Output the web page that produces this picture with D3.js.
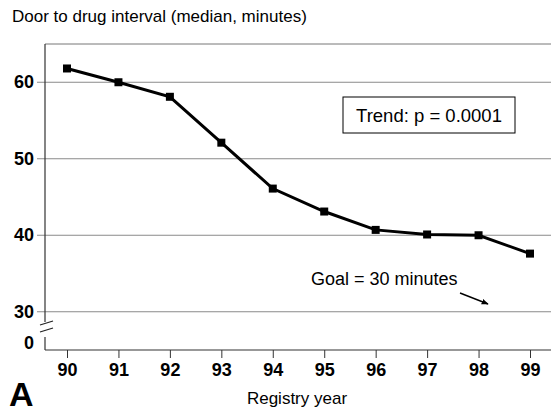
<!DOCTYPE html>
<html>
<head>
<meta charset="utf-8">
<script src="https://cdn.jsdelivr.net/npm/d3@7"></script>
<style>
  body { margin: 0; background: #fff; }
  text { font-family: "Liberation Sans", Arial, sans-serif; }
</style>
</head>
<body>
<div id="chart"></div>
<script>
var width = 551,
    height = 412;

// registry years and median door-to-drug minutes
var years = ["90", "91", "92", "93", "94", "95", "96", "97", "98", "99"];
var medians = [61.8, 60, 58.1, 52.1, 46.1, 43.1, 40.7, 40.1, 40.0, 37.6];
var yTicks = [30, 40, 50, 60];

var plotLeft = 45, plotRight = 551, plotTop = 44, plotBottom = 350;

var svg = d3.select("#chart").append("svg")
    .attr("width", width)
    .attr("height", height);

var x = d3.scalePoint()
    .domain(years)
    .range([67, 530]);

// axis is broken below 30, the "0" sits where 25 would be
var y = d3.scaleLinear()
    .domain([25, 65])
    .range([plotBottom, plotTop]);

// gridlines
svg.selectAll("line.grid")
    .data(yTicks)
  .enter().append("line")
    .attr("class", "grid")
    .attr("x1", plotLeft - 8)
    .attr("x2", plotRight)
    .attr("y1", function(d) { return y(d); })
    .attr("y2", function(d) { return y(d); })
    .attr("stroke", "#8a8a8a")
    .attr("stroke-width", 1);

// top border
svg.append("line")
    .attr("x1", plotLeft).attr("x2", plotRight)
    .attr("y1", plotTop).attr("y2", plotTop)
    .attr("stroke", "#777").attr("stroke-width", 1);

// y axis with break
svg.append("line")
    .attr("x1", plotLeft).attr("x2", plotLeft)
    .attr("y1", plotTop).attr("y2", 322)
    .attr("stroke", "#333").attr("stroke-width", 1.2);
svg.append("line")
    .attr("x1", plotLeft).attr("x2", plotLeft)
    .attr("y1", 337).attr("y2", plotBottom)
    .attr("stroke", "#333").attr("stroke-width", 1.2);
svg.append("line")
    .attr("x1", 40).attr("x2", 53)
    .attr("y1", 325).attr("y2", 321)
    .attr("stroke", "#222").attr("stroke-width", 1.2);
svg.append("line")
    .attr("x1", 40).attr("x2", 53)
    .attr("y1", 332).attr("y2", 328)
    .attr("stroke", "#222").attr("stroke-width", 1.2);

// y labels
svg.selectAll("text.ylab")
    .data(yTicks)
  .enter().append("text")
    .attr("class", "ylab")
    .attr("x", 34)
    .attr("y", function(d) { return y(d) + 6; })
    .attr("text-anchor", "end")
    .attr("font-size", 18)
    .attr("font-weight", "bold")
    .text(function(d) { return d; });
svg.append("text")
    .attr("x", 34).attr("y", y(25) - 1)
    .attr("text-anchor", "end")
    .attr("font-size", 18).attr("font-weight", "bold")
    .text("0");

// x axis
var xAxis = svg.append("g")
    .attr("transform", "translate(0," + plotBottom + ")")
    .call(d3.axisBottom(x).tickSize(8).tickPadding(5));
xAxis.select(".domain")
    .attr("d", "M" + plotLeft + ",0H" + plotRight)
    .attr("stroke", "#333").attr("stroke-width", 1.2);
xAxis.selectAll(".tick line").attr("stroke", "#333");
xAxis.selectAll(".tick text")
    .attr("font-family", "Liberation Sans, Arial, sans-serif")
    .attr("font-size", 18)
    .attr("font-weight", "bold")
    .attr("fill", "#000");

// data line
var line = d3.line()
    .x(function(d, i) { return x(years[i]); })
    .y(function(d) { return y(d); });

svg.append("path")
    .datum(medians)
    .attr("d", line)
    .attr("fill", "none")
    .attr("stroke", "#000")
    .attr("stroke-width", 3);

svg.selectAll("rect.pt")
    .data(medians)
  .enter().append("rect")
    .attr("class", "pt")
    .attr("x", function(d, i) { return x(years[i]) - 4; })
    .attr("y", function(d) { return y(d) - 4; })
    .attr("width", 8)
    .attr("height", 8)
    .attr("fill", "#000");

// title and axis label
svg.append("text")
    .attr("x", 12).attr("y", 22)
    .attr("font-size", 17)
    .text("Door to drug interval (median, minutes)");

svg.append("text")
    .attr("x", 297).attr("y", 404)
    .attr("text-anchor", "middle")
    .attr("font-size", 17)
    .text("Registry year");

svg.append("text")
    .attr("x", 9).attr("y", 406)
    .attr("font-size", 34)
    .attr("font-weight", "bold")
    .text("A");

// trend box
svg.append("rect")
    .attr("x", 343).attr("y", 97)
    .attr("width", 172).attr("height", 36)
    .attr("fill", "#fff")
    .attr("stroke", "#000").attr("stroke-width", 1);
svg.append("text")
    .attr("x", 429).attr("y", 122)
    .attr("text-anchor", "middle")
    .attr("font-size", 18.5)
    .text("Trend: p = 0.0001");

// goal annotation
svg.append("text")
    .attr("x", 311).attr("y", 285)
    .attr("font-size", 18)
    .text("Goal = 30 minutes");

svg.append("defs").append("marker")
    .attr("id", "arr")
    .attr("viewBox", "0 0 10 10")
    .attr("refX", 9).attr("refY", 5)
    .attr("markerWidth", 5).attr("markerHeight", 5)
    .attr("orient", "auto")
  .append("path")
    .attr("d", "M0,1L10,5L0,9Z")
    .attr("fill", "#000");
svg.append("line")
    .attr("x1", 460).attr("y1", 293)
    .attr("x2", 488).attr("y2", 304)
    .attr("stroke", "#000").attr("stroke-width", 1.4)
    .attr("marker-end", "url(#arr)");
</script>
</body>
</html>
